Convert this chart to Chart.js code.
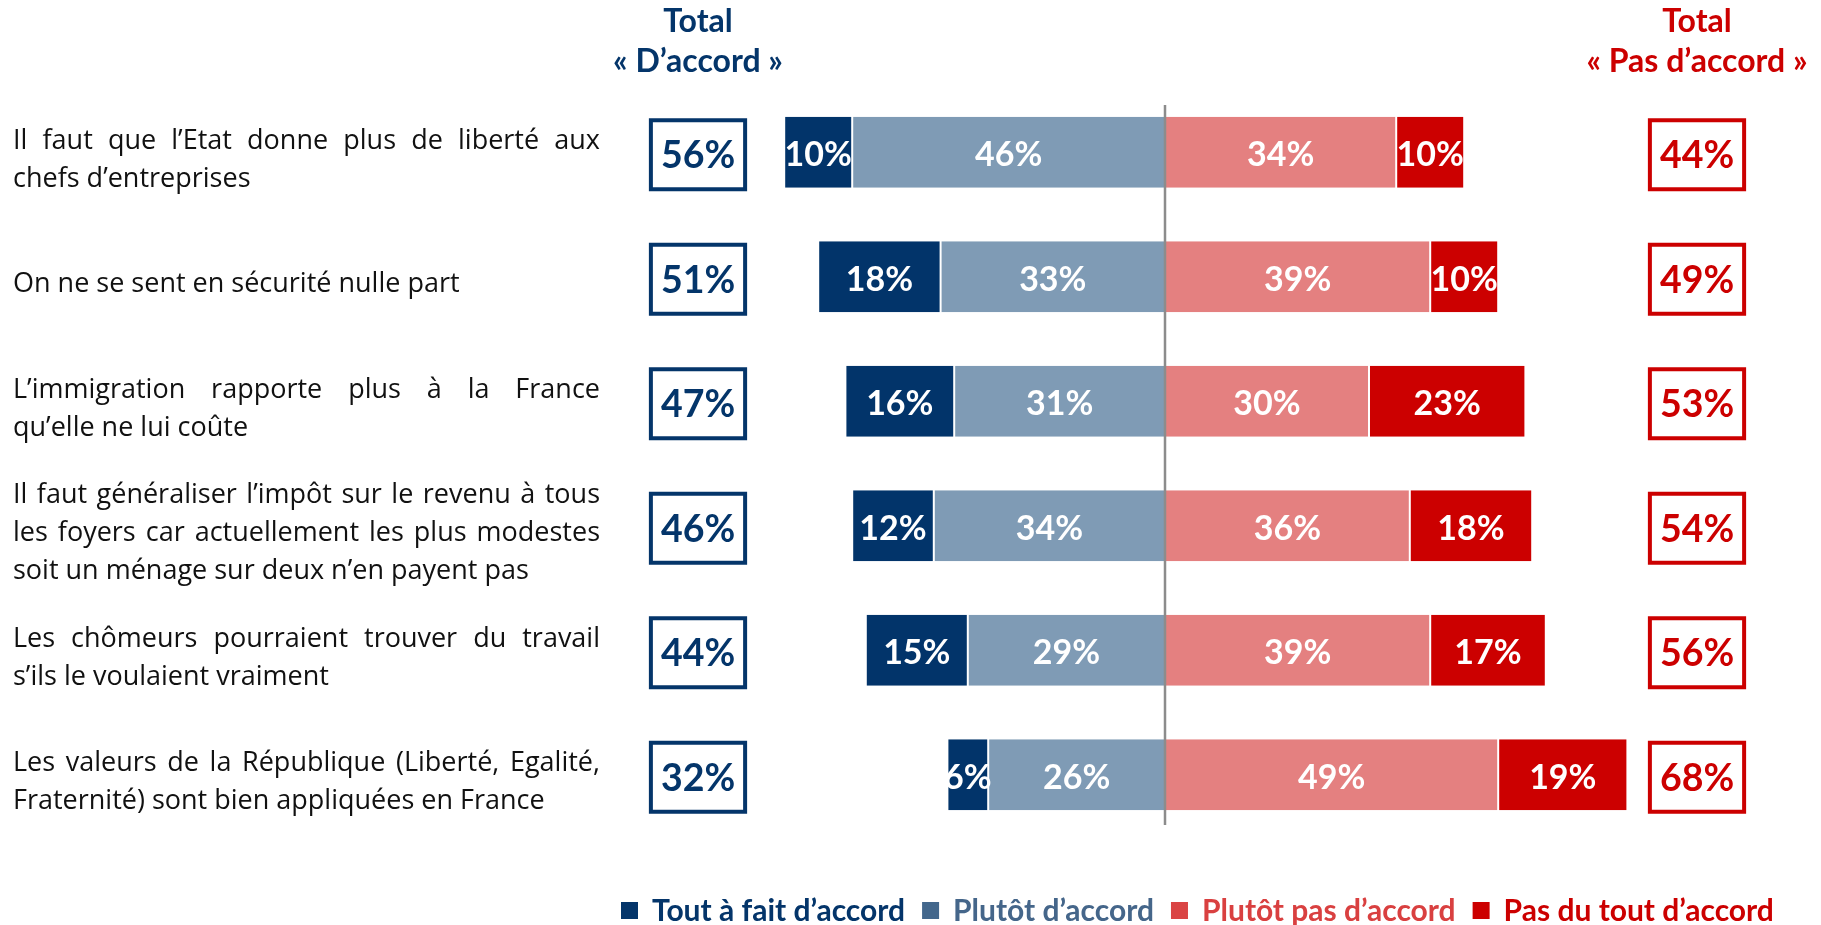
<!DOCTYPE html>
<html lang="fr">
<head>
    <meta charset="UTF-8">
    <title>Total d'accord / pas d'accord</title>
    <style>
        body {
            margin: 0;
            background: #ffffff;
        }
        canvas {
            display: block;
        }
    </style>
    <script src="https://cdn.jsdelivr.net/npm/chart.js"></script>
</head>
<body>
    <canvas id="chart" width="1821" height="925"></canvas>

    <script>
        // Items, each split in the lines shown on the left
        const categories = [
            ['Il faut que l’Etat donne plus de liberté aux', 'chefs d’entreprises'],
            ['On ne se sent en sécurité nulle part'],
            ['L’immigration rapporte plus à la France', 'qu’elle ne lui coûte'],
            ['Il faut généraliser l’impôt sur le revenu à tous', 'les foyers car actuellement les plus modestes', 'soit un ménage sur deux n’en payent pas'],
            ['Les chômeurs pourraient trouver du travail', 's’ils le voulaient vraiment'],
            ['Les valeurs de la République (Liberté, Egalité,', 'Fraternité) sont bien appliquées en France']
        ];

        const toutAFait = [10, 18, 16, 12, 15, 6];
        const plutot = [46, 33, 31, 34, 29, 26];
        const plutotPas = [34, 39, 30, 36, 39, 49];
        const pasDuTout = [10, 10, 23, 18, 17, 19];

        const legendLabels = ['Tout à fait d’accord', 'Plutôt d’accord', 'Plutôt pas d’accord', 'Pas du tout d’accord'];

        const NAVY = '#04356a';
        const RED = '#cc0000';
        const FONT = 'Lato, "Open Sans", sans-serif';

        const totalAccord = toutAFait.map((v, i) => v + plutot[i]);
        const totalPas = plutotPas.map((v, i) => v + pasDuTout[i]);

        function drawJustified(ctx, text, x, y, width) {
            const words = text.split(' ');
            const wordsWidth = words.reduce((s, w) => s + ctx.measureText(w).width, 0);
            const gap = (width - wordsWidth) / (words.length - 1);
            let cx = x;
            words.forEach(w => {
                ctx.fillText(w, cx, y);
                cx += ctx.measureText(w).width + gap;
            });
        }

        const overlay = {
            id: 'overlay',
            afterDatasetsDraw(chart) {
                const ctx = chart.ctx;
                const xScale = chart.scales.x;
                const yScale = chart.scales.y;

                // values inside the bars
                ctx.save();
                ctx.fillStyle = '#ffffff';
                ctx.font = 'bold 34px ' + FONT;
                ctx.textAlign = 'center';
                ctx.textBaseline = 'middle';
                chart.data.datasets.forEach((ds, di) => {
                    chart.getDatasetMeta(di).data.forEach((bar, i) => {
                        ctx.fillText(Math.abs(ds.data[i]) + '%', (bar.x + bar.base) / 2, bar.y + 3);
                    });
                });
                ctx.restore();

                // middle line
                const x0 = xScale.getPixelForValue(0);
                ctx.save();
                ctx.strokeStyle = '#8c8c8c';
                ctx.lineWidth = 2.5;
                ctx.beginPath();
                ctx.moveTo(x0, 105);
                ctx.lineTo(x0, 825);
                ctx.stroke();
                ctx.restore();

                // headers
                ctx.save();
                ctx.font = 'bold 32px ' + FONT;
                ctx.textAlign = 'center';
                ctx.textBaseline = 'middle';
                ctx.fillStyle = NAVY;
                ctx.fillText('Total', 698, 22);
                ctx.fillText('« D’accord »', 698, 62);
                ctx.fillStyle = RED;
                ctx.fillText('Total', 1697, 22);
                ctx.fillText('« Pas d’accord »', 1697, 62);
                ctx.restore();

                // total boxes
                ctx.save();
                ctx.font = 'bold 37.5px ' + FONT;
                ctx.textAlign = 'center';
                ctx.textBaseline = 'middle';
                ctx.lineWidth = 4;
                categories.forEach((c, i) => {
                    const y = yScale.getPixelForValue(i);
                    [[totalAccord[i], 698, NAVY], [totalPas[i], 1697, RED]].forEach(([v, cx, col]) => {
                        const t = v + '%';
                        const w = Math.max(93, ctx.measureText(t).width + 20);
                        ctx.strokeStyle = col;
                        ctx.fillStyle = col;
                        ctx.strokeRect(cx - w / 2, y - 32, w, 69);
                        ctx.fillText(t, cx, y + 4);
                    });
                });
                ctx.restore();

                // item labels, justified like the source
                ctx.save();
                ctx.font = '27px "Open Sans", ' + FONT;
                ctx.fillStyle = '#111111';
                ctx.textAlign = 'left';
                ctx.textBaseline = 'middle';
                const left = 13, right = 600, lineH = 38;
                categories.forEach((lines, i) => {
                    const yc = yScale.getPixelForValue(i) + 8;
                    const top = yc - (lines.length - 1) * lineH / 2;
                    lines.forEach((line, li) => {
                        const y = top + li * lineH;
                        if (li < lines.length - 1) {
                            drawJustified(ctx, line, left, y, right - left);
                        } else {
                            ctx.fillText(line, left, y);
                        }
                    });
                });
                ctx.restore();

                // legend
                ctx.save();
                ctx.font = 'bold 30px ' + FONT;
                ctx.textAlign = 'left';
                ctx.textBaseline = 'middle';
                const squareCols = [NAVY, '#43678c', '#da4444', RED];
                const textCols = [NAVY, '#45668a', '#d94040', RED];
                let lx = 621;
                const ly = 911;
                legendLabels.forEach((t, i) => {
                    ctx.fillStyle = squareCols[i];
                    ctx.fillRect(lx, ly - 9, 17, 17);
                    ctx.fillStyle = textCols[i];
                    ctx.fillText(t, lx + 31, ly);
                    lx += 31 + ctx.measureText(t).width + 17;
                });
                ctx.restore();
            }
        };

        const ctx = document.getElementById('chart').getContext('2d');
        new Chart(ctx, {
            type: 'bar',
            data: {
                labels: categories,
                datasets: [
                    { label: legendLabels[1], data: plutot.map(v => -v), backgroundColor: '#7f9bb5' },
                    { label: legendLabels[0], data: toutAFait.map(v => -v), backgroundColor: '#02346a' },
                    { label: legendLabels[2], data: plutotPas, backgroundColor: '#e48080' },
                    { label: legendLabels[3], data: pasDuTout, backgroundColor: '#cc0000' }
                ]
            },
            options: {
                indexAxis: 'y',
                responsive: false,
                animation: false,
                layout: {
                    padding: { left: 757, right: 180, top: 90, bottom: 88 }
                },
                datasets: {
                    bar: {
                        categoryPercentage: 1,
                        barPercentage: 0.57,
                        borderColor: '#ffffff',
                        borderWidth: { left: 1, right: 1, top: 0, bottom: 0 },
                        borderSkipped: false
                    }
                },
                scales: {
                    x: { stacked: true, min: -60, max: 70, display: false },
                    y: { stacked: true, display: false }
                },
                plugins: {
                    legend: { display: false },
                    tooltip: { enabled: false }
                }
            },
            plugins: [overlay]
        });
    </script>
</body>
</html>
